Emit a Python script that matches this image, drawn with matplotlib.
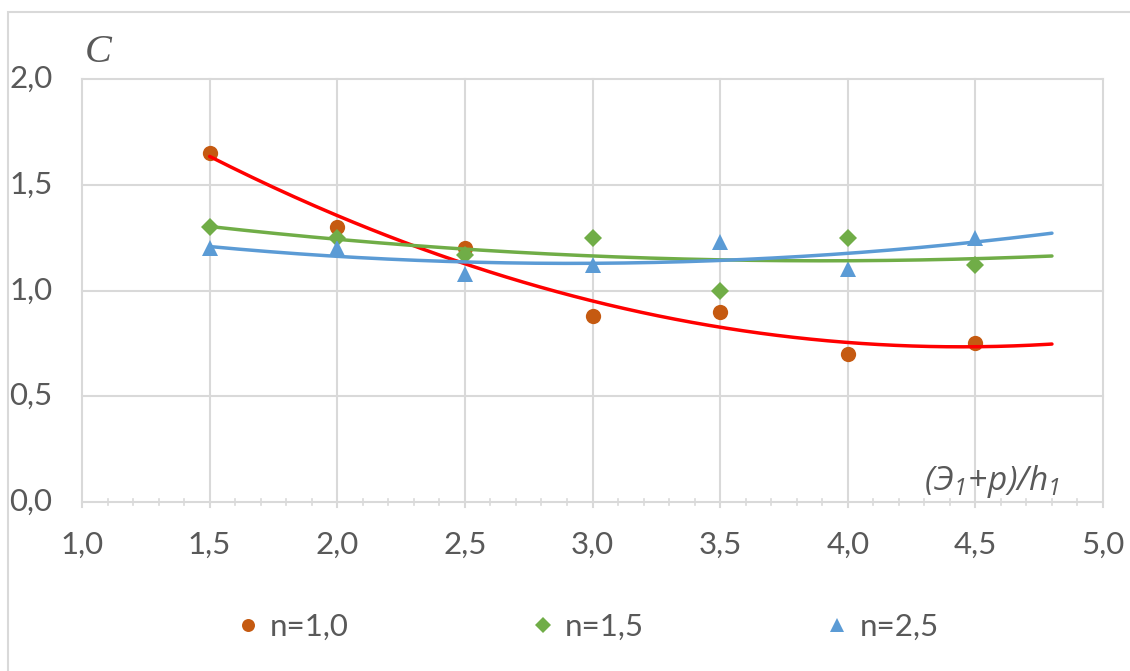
import numpy as np
import matplotlib
matplotlib.use("Agg")
import matplotlib.pyplot as plt
from matplotlib.patches import Rectangle
from matplotlib.lines import Line2D

# ---- data ----
x_vals = [1.5, 2.0, 2.5, 3.0, 3.5, 4.0, 4.5]
c_n10 = [1.65, 1.30, 1.20, 0.88, 0.90, 0.70, 0.75]
c_n15 = [1.30, 1.25, 1.17, 1.25, 1.00, 1.25, 1.12]
c_n25 = [1.20, 1.20, 1.08, 1.12, 1.23, 1.10, 1.25]
series_labels = ["n=1,0", "n=1,5", "n=2,5"]
x_ticks = [1.0, 1.5, 2.0, 2.5, 3.0, 3.5, 4.0, 4.5, 5.0]
y_ticks = [0.0, 0.5, 1.0, 1.5, 2.0]
trend_forward = 0.3

W, H = 1130, 671
fig = plt.figure(figsize=(W / 100, H / 100), dpi=100)
fig.patch.set_facecolor("white")

# outer chart border (top/left visible)
fig.add_artist(Rectangle((8 / W, -0.05), 1.2, 1 - 12 / H + 0.05,
                         transform=fig.transFigure, fill=False,
                         edgecolor="#d9d9d9", linewidth=1.5))

L, R, T, B = 82, 1103, 79, 502
ax = fig.add_axes([L / W, 1 - B / H, (R - L) / W, (B - T) / H])
ax.set_xlim(1.0, 5.0)
ax.set_ylim(0.0, 2.0)
for s in ax.spines.values():
    s.set_visible(False)

grid_c = "#d9d9d9"
tick_c = "#595959"
font = "Lato"
fs = 22.5

for yv in y_ticks:
    ax.axhline(yv, color=grid_c, lw=1.5, zorder=0.5, clip_on=False)
for xv in x_ticks:
    ax.plot([xv, xv], [-0.025, 2.0], color=grid_c, lw=1.5, zorder=0.5, clip_on=False)
minor = np.arange(1.0, 5.0001, 0.1)
for xv in minor:
    if min(abs(xv - t) for t in x_ticks) > 1e-6:
        ax.plot([xv, xv], [-0.016, 0.016], color=grid_c, lw=1.2, zorder=0.5, clip_on=False)

ax.set_xticks([])
ax.set_yticks([])
for yv in y_ticks:
    ax.text(-0.029, yv, f"{yv:.1f}".replace(".", ","), ha="right", va="center",
            fontsize=fs, color=tick_c, family=font,
            transform=ax.get_yaxis_transform())
for xv in x_ticks:
    ax.text(xv, -0.2, f"{xv:.1f}".replace(".", ","), ha="center", va="center",
            fontsize=fs, color=tick_c, family=font)

colors_pts = ["#C55A11", "#70AD47", "#5B9BD5"]
markers = ["o", "D", "^"]
msizes = [11, 9, 12]
line_colors = ["#FF0000", "#70AD47", "#5B9BD5"]
all_series = [c_n10, c_n15, c_n25]

for ys, col, mk, ms in zip(all_series, colors_pts, markers, msizes):
    ax.plot(x_vals, ys, linestyle="none", marker=mk, markersize=ms,
            color=col, markeredgewidth=0, zorder=3, clip_on=False)

xf = np.linspace(min(x_vals), max(x_vals) + trend_forward, 200)
for ys, lc in zip(all_series, line_colors):
    p = np.polyfit(x_vals, ys, 2)
    ax.plot(xf, np.polyval(p, xf), color=lc, lw=2.5, zorder=4,
            solid_capstyle="round")

# axis titles
fig.text(85 / W, 1 - 52 / H, "C", fontsize=29, family="Liberation Serif",
         style="italic", color=tick_c, ha="left", va="center")
plt.rcParams["mathtext.fontset"] = "custom"
plt.rcParams["mathtext.it"] = "Open Sans:italic"
plt.rcParams["mathtext.rm"] = "Open Sans:italic"
fig.text(1060 / W, 1 - 490 / H, r"$\mathit{(Э_1\!+\!p)/h_1}$", fontsize=24,
         color=tick_c, ha="right", va="baseline")

# legend
handles = [Line2D([], [], linestyle="none", marker=m, color=c, markersize=s * 0.85,
                  markeredgewidth=0) for m, c, s in zip(markers, colors_pts, msizes)]
leg = fig.legend(handles, series_labels, loc="center", bbox_to_anchor=(0.521, 1 - 627 / H),
                 ncol=3, frameon=False, prop={"family": font, "size": fs},
                 handlelength=0.6, handletextpad=0.4, columnspacing=5.9)
for t in leg.get_texts():
    t.set_color(tick_c)

fig.savefig("out.png", dpi=100, facecolor="white")
